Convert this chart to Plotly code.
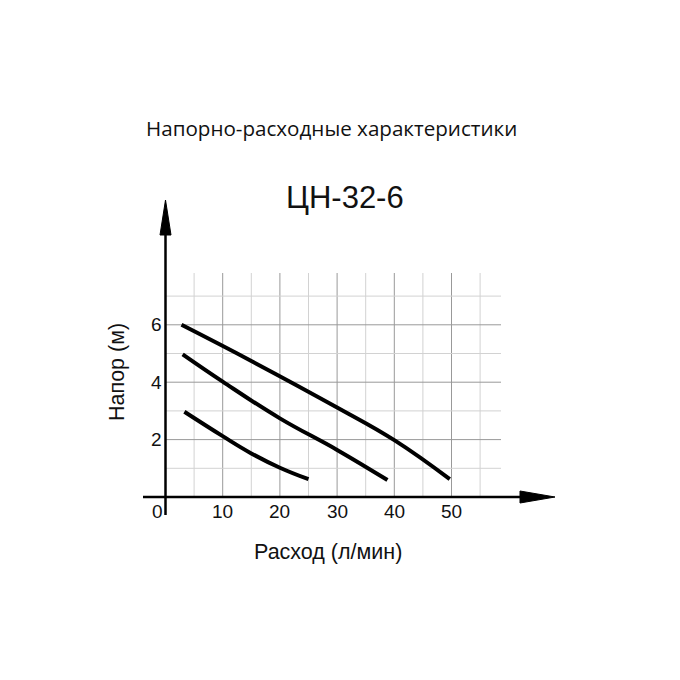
import plotly.graph_objects as go

# ---- data ----
title_text = "Напорно-расходные характеристики"
model_text = "ЦН-32-6"
x_title = "Расход (л/мин)"
y_title = "Напор (м)"

x_ticks = [0, 10, 20, 30, 40, 50]
x_tick_labels = ["0", "10", "20", "30", "40", "50"]
y_ticks = [2, 4, 6]
y_tick_labels = ["2", "4", "6"]

grid_x_major = [10, 20, 30, 40, 50]
grid_x_minor = [5, 15, 25, 35, 45, 55]
grid_y_major = [2, 4, 6]
grid_y_minor = [1, 3, 5, 7]

curve_hi_x = [2.8, 15, 30, 40, 49.7]
curve_hi_y = [6.0, 4.74, 3.12, 1.98, 0.62]
curve_mid_x = [3.0, 10, 20, 30, 38.8]
curve_mid_y = [4.97, 4.02, 2.74, 1.64, 0.59]
curve_lo_x = [3.3, 10, 15, 20, 25.0]
curve_lo_y = [2.97, 2.12, 1.52, 1.02, 0.62]

# ---- pixel mapping (figure 680x680, zero margins, page offset 8px) ----
OFF = 8
X0_PX, PX_PER_X = 165.5 - OFF, 5.72
Y0_PX, PX_PER_Y = 497.0 - OFF, 28.7
W = H = 680
x_range = [(0 - X0_PX) / PX_PER_X, (W - X0_PX) / PX_PER_X]
y_range = [(Y0_PX - H) / PX_PER_Y, Y0_PX / PX_PER_Y]

def px_x(p):
    return (p - OFF - X0_PX) / PX_PER_X

def px_y(p):
    return (Y0_PX - (p - OFF)) / PX_PER_Y

fig = go.Figure()

shapes = []
major_color = "#999999"
minor_color = "#d2d2d2"
grid_top = px_y(273)
grid_right = px_x(501)
for gx_list, col in [(grid_x_minor, minor_color), (grid_x_major, major_color)]:
    for gx in gx_list:
        shapes.append(dict(type="line", xref="x", yref="y", x0=gx, x1=gx, y0=0, y1=grid_top,
                           line=dict(color=col, width=1), layer="below"))
for gy_list, col in [(grid_y_minor, minor_color), (grid_y_major, major_color)]:
    for gy in gy_list:
        shapes.append(dict(type="line", xref="x", yref="y", x0=0, x1=grid_right, y0=gy, y1=gy,
                           line=dict(color=col, width=1), layer="below"))

# axes lines
y_tip = px_y(200)
y_base = px_y(235)
x_tip = px_x(555)
x_base = px_x(520)
shapes.append(dict(type="line", xref="x", yref="y", x0=0, x1=0, y0=px_y(515), y1=y_base + 0.2,
                   line=dict(color="black", width=2.5)))
shapes.append(dict(type="line", xref="x", yref="y", x0=px_x(143), x1=x_base + 0.5, y0=0, y1=0,
                   line=dict(color="black", width=2.5)))
# arrowheads
hw_x = 5.5 / PX_PER_X
shapes.append(dict(type="path", xref="x", yref="y",
                   path=f"M {-hw_x} {y_base} L 0 {y_tip} L {hw_x} {y_base} Z",
                   fillcolor="black", line=dict(color="black", width=1)))
hw_y = 6 / PX_PER_Y
shapes.append(dict(type="path", xref="x", yref="y",
                   path=f"M {x_base} {-hw_y} L {x_tip} 0 L {x_base} {hw_y} Z",
                   fillcolor="black", line=dict(color="black", width=1)))

for cx, cy in [(curve_hi_x, curve_hi_y), (curve_mid_x, curve_mid_y), (curve_lo_x, curve_lo_y)]:
    fig.add_trace(go.Scatter(x=cx, y=cy, mode="lines",
                             line=dict(color="black", width=4, shape="spline", smoothing=1.2),
                             hoverinfo="skip", showlegend=False))

annotations = []
tick_font = dict(family="Liberation Sans, Arial, sans-serif", size=19, color="#111")
for v, lab in zip(x_ticks, x_tick_labels):
    xv = px_x(157) if v == 0 else v
    annotations.append(dict(x=xv, y=px_y(511), xref="x", yref="y", text=lab, showarrow=False,
                            font=tick_font, xanchor="center", yanchor="middle"))
for v, lab in zip(y_ticks, y_tick_labels):
    annotations.append(dict(x=px_x(156), y=v, xref="x", yref="y", text=lab, showarrow=False,
                            font=tick_font, xanchor="center", yanchor="middle"))

annotations.append(dict(x=px_x(331), y=px_y(128), xref="x", yref="y", text=title_text,
                        showarrow=False, font=dict(family="Open Sans, sans-serif", size=20.6, color="#111"),
                        xanchor="center", yanchor="middle"))
annotations.append(dict(x=px_x(345), y=px_y(197), xref="x", yref="y", text=model_text,
                        showarrow=False, font=dict(family="Liberation Sans, Arial, sans-serif", size=31, color="#111"),
                        xanchor="center", yanchor="middle"))
annotations.append(dict(x=px_x(328), y=px_y(552), xref="x", yref="y", text=x_title,
                        showarrow=False, font=dict(family="Liberation Sans, Arial, sans-serif", size=21.5, color="#111"),
                        xanchor="center", yanchor="middle"))
annotations.append(dict(x=px_x(117), y=px_y(372), xref="x", yref="y", text=y_title, textangle=-90,
                        showarrow=False, font=dict(family="Liberation Sans, Arial, sans-serif", size=21.5, color="#111"),
                        xanchor="center", yanchor="middle"))

fig.update_layout(
    width=W, height=H,
    margin=dict(l=0, r=0, t=0, b=0),
    paper_bgcolor="white", plot_bgcolor="white",
    xaxis=dict(range=x_range, visible=False, fixedrange=True),
    yaxis=dict(range=y_range, visible=False, fixedrange=True),
    shapes=shapes, annotations=annotations,
    showlegend=False,
)

fig.write_html("out.html", config={"displayModeBar": False})
